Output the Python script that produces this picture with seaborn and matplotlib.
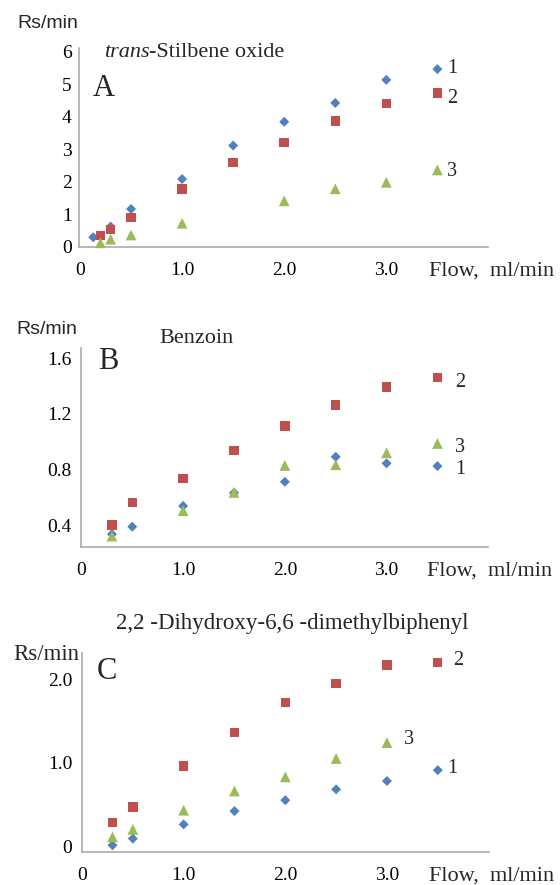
import matplotlib
matplotlib.use("Agg")
import matplotlib.pyplot as plt
import seaborn as sns
import pandas as pd

# ---------------- data ----------------
flow_A1 = [0.13, 0.3, 0.5, 1.0, 1.5, 2.0, 2.5, 3.0, 3.5]
rs_A1 = [0.29, 0.62, 1.16, 2.08, 3.11, 3.84, 4.42, 5.13, 5.46]
flow_A2 = [0.2, 0.3, 0.5, 1.0, 1.5, 2.0, 2.5, 3.0, 3.5]
rs_A2 = [0.34, 0.53, 0.89, 1.78, 2.58, 3.21, 3.86, 4.41, 4.72]
flow_A3 = [0.2, 0.3, 0.5, 1.0, 2.0, 2.5, 3.0, 3.5]
rs_A3 = [0.12, 0.23, 0.36, 0.72, 1.41, 1.78, 1.98, 2.36]

flow_B1 = [0.3, 0.5, 1.0, 1.5, 2.0, 2.5, 3.0, 3.5]
rs_B1 = [0.335, 0.388, 0.537, 0.632, 0.711, 0.891, 0.844, 0.824]
flow_B2 = [0.3, 0.5, 1.0, 1.5, 2.0, 2.5, 3.0, 3.5]
rs_B2 = [0.40, 0.563, 0.736, 0.937, 1.112, 1.263, 1.393, 1.463]
flow_B3 = [0.3, 1.0, 1.5, 2.0, 2.5, 3.0, 3.5]
rs_B3 = [0.32, 0.503, 0.635, 0.829, 0.834, 0.92, 0.987]

flow_C1 = [0.3, 0.5, 1.0, 1.5, 2.0, 2.5, 3.0, 3.5]
rs_C1 = [0.01, 0.09, 0.26, 0.42, 0.55, 0.68, 0.78, 0.91]
flow_C2 = [0.3, 0.5, 1.0, 1.5, 2.0, 2.5, 3.0, 3.5]
rs_C2 = [0.28, 0.47, 0.96, 1.36, 1.72, 1.95, 2.17, 2.20]
flow_C3 = [0.3, 0.5, 1.0, 1.5, 2.0, 2.5, 3.0]
rs_C3 = [0.11, 0.20, 0.43, 0.66, 0.83, 1.05, 1.24]

series_names = ["1", "2", "3"]
x_ticks = [0, 1, 2, 3]
x_ticklabels = ["0", "1.0", "2.0", "3.0"]
yticks_A = [0, 1, 2, 3, 4, 5, 6]
yticklabels_A = ["0", "1", "2", "3", "4", "5", "6"]
yticks_B = [0.4, 0.8, 1.2, 1.6]
yticklabels_B = ["0.4", "0.8", "1.2", "1.6"]
yticks_C = [0, 1, 2]
yticklabels_C = ["0", "1.0", "2.0"]

title_A_it = "trans"
title_A_rest = "-Stilbene oxide"
title_B = "Benzoin"
title_C = "2,2 -Dihydroxy-6,6 -dimethylbiphenyl"
ylab = "Rs/min"
xlab = "Flow,  ml/min"

# ---------------- style ----------------
sns.set_theme(style="white")
plt.rcParams["font.family"] = ["Liberation Serif", "DejaVu Serif"]

W, H = 560, 885
palette = {"1": "#4F81BD", "2": "#C0504D", "3": "#9BBB59"}
markers = {"1": "D", "2": "s", "3": "^"}
sizes = {"1": 26, "2": 46, "3": 60}
SERIF = "Liberation Serif"
SANS = "Liberation Sans"
AXC = "#ABABAB"


def px(x, y):
    return x / W, 1 - y / H


def frame(flows, vals):
    rows = []
    for name, fl, vl in zip(series_names, flows, vals):
        for f, v in zip(fl, vl):
            rows.append({"flow": f, "rs": v, "series": name})
    return pd.DataFrame(rows)


fig = plt.figure(figsize=(W / 100, H / 100), dpi=100)


def make_axes(left, x0, ppu, top, bottom, ylim, yticks, yticklabels, ypad):
    right = x0 + 4 * ppu
    ax = fig.add_axes([left / W, 1 - bottom / H, (right - left) / W, (bottom - top) / H])
    ax.set_xlim((left - x0) / ppu, 4)
    ax.set_ylim(*ylim)
    for s in ["top", "right"]:
        ax.spines[s].set_visible(False)
    for s in ["left", "bottom"]:
        ax.spines[s].set_color(AXC)
        ax.spines[s].set_linewidth(1.2)
    ax.set_xticks(x_ticks)
    ax.set_xticklabels(x_ticklabels)
    ax.set_yticks(yticks)
    ax.set_yticklabels(yticklabels)
    ax.tick_params(axis="x", length=0, pad=11.3, labelsize=14, colors="black")
    ax.tick_params(axis="y", length=0, pad=ypad, labelsize=14, colors="black")
    for lab in ax.get_xticklabels() + ax.get_yticklabels():
        lab.set_fontfamily(SERIF)
    ax.set_xlabel("")
    ax.set_ylabel("")
    return ax


def draw(ax, df, label_offsets):
    sns.scatterplot(data=df, x="flow", y="rs", hue="series", style="series",
                    size="series", palette=palette, markers=markers, sizes=sizes,
                    linewidth=0, legend=False, ax=ax, zorder=3, clip_on=False)
    ax.set_xlabel("")
    ax.set_ylabel("")
    for name in series_names:
        sub = df[df["series"] == name]
        xp, yp = sub["flow"].iloc[-1], sub["rs"].iloc[-1]
        dx, dy = label_offsets[name]
        ax.annotate(name, (xp, yp), xytext=(dx, dy), textcoords="offset pixels",
                    ha="center", va="center", fontsize=14.5, family=SERIF)


# Panel A
axA = make_axes(79.3, 80, 102.1, 48.3, 246.7, (0, 6.1), yticks_A, yticklabels_A, 5.5)
dfA = frame([flow_A1, flow_A2, flow_A3], [rs_A1, rs_A2, rs_A3])
draw(axA, dfA, {"1": (14.5, 0.5), "2": (14.5, -5.2), "3": (14.5, -1.1)})

# Panel B
axB = make_axes(81.4, 81.1, 101.8, 348.3, 546.7, (0.244, 1.672), yticks_B, yticklabels_B, 7)
dfB = frame([flow_B1, flow_B2, flow_B3], [rs_B1, rs_B2, rs_B3])
draw(axB, dfB, {"1": (23, -3.5), "2": (23, -4.8), "3": (23, -4.5)})

# Panel C
axC = make_axes(82, 81.4, 101.8, 653.3, 851.7, (-0.067, 2.31), yticks_C, yticklabels_C, 7)
dfC = frame([flow_C1, flow_C2, flow_C3], [rs_C1, rs_C2, rs_C3])
draw(axC, dfC, {"1": (14.5, 1.2), "2": (20.5, 1.6), "3": (22, 3.2)})

# ---------------- texts ----------------
fig.text(*px(48, 23.5), ylab, family=SANS, fontsize=14, ha="center", va="center")
fig.text(*px(46.4, 330), ylab, family=SANS, fontsize=14, ha="center", va="center")
fig.text(*px(46.4, 654.5), ylab, family=SERIF, fontsize=16.5, ha="center", va="center")

fig.text(*px(103.6, 88), "A", family=SERIF, fontsize=22, ha="center", va="center")
fig.text(*px(108, 361.3), "B", family=SERIF, fontsize=22, ha="center", va="center")
fig.text(*px(106.7, 671.3), "C", family=SERIF, fontsize=22, ha="center", va="center")

t1 = fig.text(*px(103.6, 52.7), title_A_it, family=SERIF, style="italic",
              fontsize=16, ha="left", va="center")
fig.canvas.draw()
bb = t1.get_window_extent(renderer=fig.canvas.get_renderer())
fig.text(bb.x1 / W, 1 - 52.7 / H, title_A_rest, family=SERIF, fontsize=16,
         ha="left", va="center")
fig.text(*px(159, 338.5), title_B, family=SERIF, fontsize=16, ha="left", va="center")
fig.text(*px(292, 624), title_C, family=SERIF, fontsize=16.5, ha="center", va="center")

fig.text(*px(429, 271.5), xlab, family=SERIF, fontsize=16, ha="left", va="center")
fig.text(*px(427, 570.8), xlab, family=SERIF, fontsize=16, ha="left", va="center")
fig.text(*px(428.6, 876), xlab, family=SERIF, fontsize=16, ha="left", va="center")

fig.savefig("out.png", dpi=100)
